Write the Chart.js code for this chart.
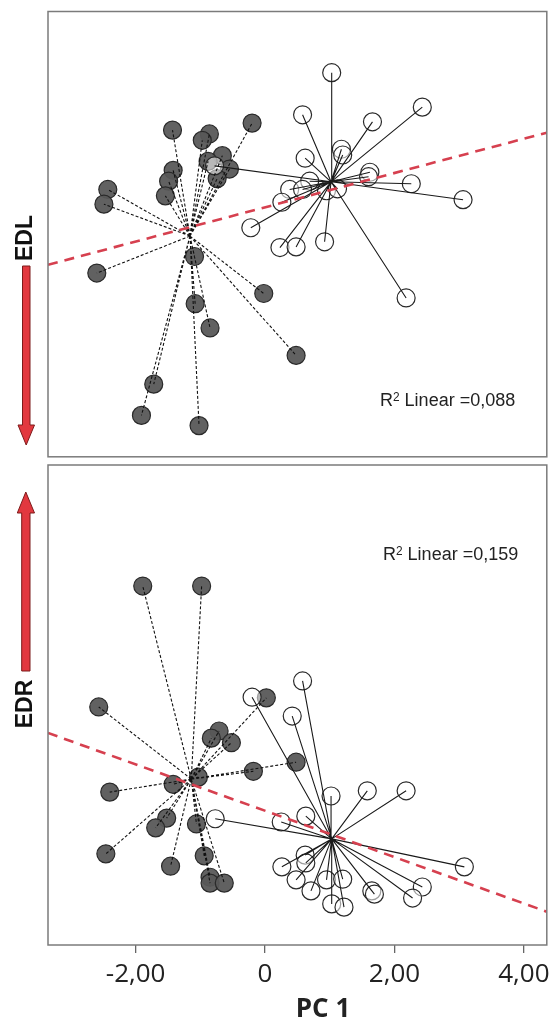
<!DOCTYPE html>
<html>
<head>
<meta charset="utf-8">
<script src="https://cdn.jsdelivr.net/npm/chart.js@4.4.1/dist/chart.umd.min.js"></script>
<style>
  html, body { margin: 0; padding: 0; background: #ffffff; }
  body { width: 557px; height: 1025px; position: relative; overflow: hidden; font-family: "Liberation Sans", Arial, sans-serif; }
  canvas { position: absolute; left: 0; }
  #cTop { top: 0; }
  #cBot { top: 440px; }
  .ylab { position: absolute; font-family: "Liberation Sans", Arial, sans-serif; font-weight: bold; font-size: 23px; line-height: 1; color: #111; white-space: nowrap; transform: translate(-50%, -50%) rotate(-90deg); }
  .rsq { position: absolute; font-family: "Liberation Sans", Arial, sans-serif; font-size: 18px; line-height: 1; color: #222; white-space: nowrap; }
  .rsq .sup { position: relative; top: -0.45em; font-size: 0.66em; }
  #xtitle { position: absolute; left: 323px; top: 992px; transform: translateX(-50%); font-family: "Open Sans", sans-serif; font-weight: bold; font-size: 26px; line-height: 1.2; color: #222; white-space: nowrap; }
  svg { position: absolute; left: 0; top: 0; }
</style>
</head>
<body>
<canvas id="cTop" width="557" height="467"></canvas>
<canvas id="cBot" width="557" height="585"></canvas>

<svg width="60" height="700" viewBox="0 0 60 700">
  <polygon points="22.5,266 30,266 30,425 34.5,425 26.2,445 18,425 22.5,425" fill="#e2383f" stroke="#7d1a1a" stroke-width="1"/>
  <polygon points="25.8,492 34.5,513 30,513 30,671 21.7,671 21.7,513 17.3,513" fill="#e2383f" stroke="#7d1a1a" stroke-width="1"/>
</svg>

<div class="ylab" style="left:24px; top:237.5px;">EDL</div>
<div class="ylab" style="left:24.3px; top:704px;">EDR</div>

<div class="rsq" style="left:380px; top:391px;">R<span class="sup">2</span> Linear =0,088</div>
<div class="rsq" style="left:383px; top:545px;">R<span class="sup">2</span> Linear =0,159</div>

<div id="xtitle">PC 1</div>

<script>
// ---------- X axis ----------
const xTickValues = [-2, 0, 2, 4];
const xTickLabels = ["-2,00", "0", "2,00", "4,00"];
const xMin = -3.354, xMax = 4.354;

// ---------- Top panel (EDL) ----------
const topFilledX = [-1.43, -0.86, -0.97, -0.20, -0.66, -0.88, -0.55, -0.74, -1.42, -1.49, -1.54, -2.43, -2.49, -1.09, -2.60, -0.02, -1.08, -0.85, 0.48, -1.72, -1.91, -1.02];
const topFilledY = [1.63, 1.57, 1.47, 1.74, 1.23, 1.14, 1.02, 0.87, 1.00, 0.83, 0.60, 0.70, 0.47, -0.35, -0.61, -0.93, -1.09, -1.47, -1.90, -2.35, -2.84, -3.00];
const topFilledCentroid = [-1.16, -0.03];

const topOpenX = [1.03, 0.58, 2.43, 1.66, 1.18, 1.20, 0.62, 1.62, 1.60, 2.26, 3.06, 0.69, 0.38, 0.58, 0.26, 0.95, 1.12, -0.22, 0.23, 0.48, 0.92, 2.18, -0.78];
const topOpenY = [2.53, 1.87, 1.99, 1.76, 1.33, 1.24, 1.19, 0.97, 0.90, 0.79, 0.54, 0.83, 0.70, 0.70, 0.50, 0.68, 0.71, 0.10, -0.21, -0.20, -0.12, -1.00, 1.07];
const topOpenCentroid = [1.02, 0.82];

const topFitX = [-3.354, 4.354];
const topFitY = [-0.48, 1.59];
const topYRange = [-3.4885, 3.4885];

// ---------- Bottom panel (EDR) ----------
const botFilledX = [-1.89, -0.98, -2.57, 0.02, -0.71, -0.83, -0.52, -0.18, 0.48, -1.03, -1.42, -2.40, -1.52, -1.69, -1.06, -2.46, -1.46, -0.94, -0.85, -0.85, -0.63];
const botFilledY = [1.83, 1.83, -0.03, 0.11, -0.40, -0.51, -0.58, -1.02, -0.88, -1.11, -1.22, -1.34, -1.74, -1.89, -1.83, -2.29, -2.48, -2.32, -2.65, -2.74, -2.74];
const botFilledCentroid = [-1.14, -1.14];

const botOpenX = [0.58, -0.20, 0.42, 1.02, 1.58, 2.18, 0.63, 0.25, -0.77, 3.08, 0.62, 0.63, 0.26, 0.48, 0.71, 0.95, 1.20, 1.03, 1.22, 1.65, 1.69, 2.43, 2.28];
const botOpenY = [0.37, 0.12, -0.17, -1.40, -1.32, -1.32, -1.71, -1.80, -1.75, -2.49, -2.31, -2.43, -2.49, -2.69, -2.86, -2.69, -2.68, -3.06, -3.11, -2.86, -2.91, -2.80, -2.97];
const botOpenCentroid = [1.03, -2.06];

const botFitX = [-3.354, 4.354];
const botFitY = [-0.43, -3.18];
const botYRange = [-3.6923, 3.6923];

// ---------- helpers ----------
function pts(xs, ys) { return xs.map((x, i) => ({ x: x, y: ys[i] })); }
function spokes(xs, ys, c) {
  const out = [];
  xs.forEach((x, i) => {
    out.push({ x: c[0], y: c[1] });
    out.push({ x: x, y: ys[i] });
    out.push({ x: x, y: null });
  });
  return out;
}

const framePlugin = {
  id: 'frame',
  afterDraw(chart) {
    const { ctx, chartArea: a } = chart;
    ctx.save();
    ctx.strokeStyle = '#7b7b7b';
    ctx.lineWidth = 1.5;
    ctx.strokeRect(a.left, a.top, a.right - a.left, a.bottom - a.top);
    ctx.restore();
  }
};

function datasets(fx, fy, fc, ox, oy, oc, lx, ly) {
  return [
    { type: 'scatter', label: 'fit', data: pts(lx, ly), showLine: true, pointRadius: 0,
      borderColor: '#d6404f', borderWidth: 2.6, borderDash: [10, 7], order: 0 },
    { type: 'scatter', label: 'spokesFilled', data: spokes(fx, fy, fc), showLine: true, spanGaps: false,
      pointRadius: 0, borderColor: '#111111', borderWidth: 1.1, borderDash: [3, 2], order: 1 },
    { type: 'scatter', label: 'spokesOpen', data: spokes(ox, oy, oc), showLine: true, spanGaps: false,
      pointRadius: 0, borderColor: '#1a1a1a', borderWidth: 1.1, order: 1 },
    { type: 'scatter', label: 'open', data: pts(ox, oy), pointRadius: 9, pointHoverRadius: 9,
      backgroundColor: 'rgba(255,255,255,0.55)', borderColor: '#2a2a2a', borderWidth: 1.2, order: 2 },
    { type: 'scatter', label: 'filled', data: pts(fx, fy), pointRadius: 9, pointHoverRadius: 9,
      backgroundColor: 'rgba(88,88,88,0.95)', borderColor: '#2a2a2a', borderWidth: 1.2, order: 3 }
  ];
}

const common = {
  responsive: false,
  animation: false,
  devicePixelRatio: 1,
  plugins: { legend: { display: false }, tooltip: { enabled: false } },
  events: []
};

new Chart(document.getElementById('cTop'), {
  type: 'scatter',
  data: { datasets: datasets(topFilledX, topFilledY, topFilledCentroid, topOpenX, topOpenY, topOpenCentroid, topFitX, topFitY) },
  options: Object.assign({}, common, {
    layout: { padding: { left: 48, right: 8, top: 11.5, bottom: 2 } },
    scales: {
      x: { type: 'linear', min: xMin, max: xMax, display: false },
      y: { type: 'linear', min: topYRange[0], max: topYRange[1], display: false }
    }
  }),
  plugins: [framePlugin]
});

new Chart(document.getElementById('cBot'), {
  type: 'scatter',
  data: { datasets: datasets(botFilledX, botFilledY, botFilledCentroid, botOpenX, botOpenY, botOpenCentroid, botFitX, botFitY) },
  options: Object.assign({}, common, {
    layout: { padding: { left: 48, right: 8, top: 25, bottom: 0 } },
    scales: {
      x: {
        type: 'linear', min: xMin, max: xMax, position: 'bottom',
        border: { display: false },
        grid: { display: true, drawOnChartArea: false, drawTicks: true, tickLength: 8, color: '#666666', lineWidth: 1.3 },
        afterBuildTicks: (scale) => { scale.ticks = xTickValues.map(v => ({ value: v })); },
        afterFit: (scale) => { scale.height = 80; },
        ticks: {
          autoSkip: false, maxRotation: 0, padding: 6, color: '#222222',
          font: { family: 'Open Sans', size: 26 },
          callback: (v) => { const i = xTickValues.indexOf(v); return i >= 0 ? xTickLabels[i] : ''; }
        }
      },
      y: { type: 'linear', min: botYRange[0], max: botYRange[1], display: false }
    }
  }),
  plugins: [framePlugin]
});
</script>
</body>
</html>
